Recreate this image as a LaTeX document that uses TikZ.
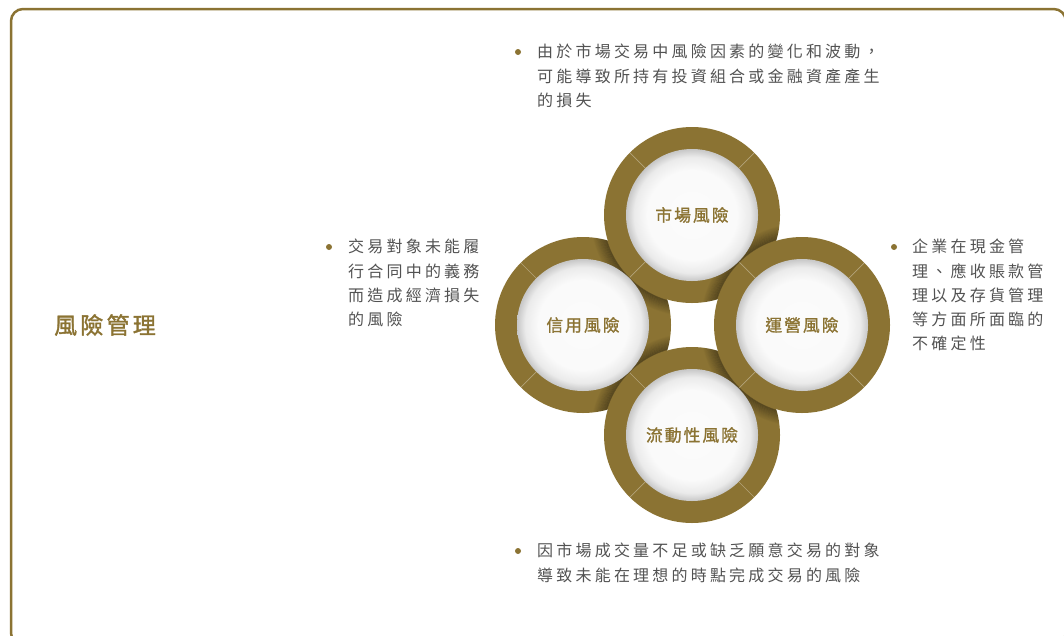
\documentclass[tikz,border=0pt]{standalone}
\usepackage{fontspec}
\usetikzlibrary{calc}
\newfontfamily\cjkbody[LetterSpace=20]{Noto Sans CJK TC}
\newfontfamily\cjklabel[LetterSpace=12,FakeBold=1.2]{Noto Sans CJK TC}
\newfontfamily\cjktitle[LetterSpace=14,FakeBold=1.5]{Noto Sans CJK TC}
\definecolor{gold}{RGB}{139,115,51}
\definecolor{bodygray}{RGB}{82,82,82}
\pgfdeclareradialshading{innerdisk}{\pgfpoint{0bp}{0bp}}{color(0bp)=(white!98.5!black); color(17bp)=(white!98!black); color(22bp)=(white!92!black); color(25bp)=(white!78!black); color(50bp)=(white!78!black)}
\tikzset{
  ringouter/.style={circle, fill=gold, minimum size=176pt, inner sep=0pt},
  ringinner/.style={circle, shading=innerdisk, minimum size=132pt, inner sep=0pt, text=gold, font=\cjklabel\fontsize{16.8}{20}\selectfont},
  sepline/.style={white, opacity=0.35, line width=0.7pt},
  bodytext/.style={anchor=north west, inner sep=0pt, align=left, text=bodygray, font=\cjkbody\fontsize{16}{24.3}\selectfont},
  bulletdot/.style={circle, fill=gold, inner sep=0pt, minimum size=6pt},
}
\newcommand\ringseps[1]{\foreach \a in {45,135,225,315} \draw[sepline] ($(#1)+(\a:66)$) -- ($(#1)+(\a:88)$);}
\newcommand\ringhalo[2]{%
  \begin{scope}[even odd rule]
    \clip (#1) circle (88) (#1) circle (66);
    \foreach \k [evaluate=\k as \op using 0.32*(1-\k/14)] in {1,...,13}
      \draw[black, line width=1.2pt, opacity=\op] (#2) circle ({88+\k});
  \end{scope}}
\begin{document}
\begin{tikzpicture}[x=1pt, y=-1pt]
\useasboundingbox (0,0) rectangle (1064,635);
\draw[gold, line width=2.5pt, rounded corners=12pt] (11,9) rectangle (1065.8,645);

\node[font=\cjktitle\fontsize{23}{26}\selectfont, text=gold] (title) at (105,325) {風險管理};

\coordinate (cT) at (692,215);
\coordinate (cL) at (583,325);
\coordinate (cR) at (802,325);
\coordinate (cB) at (692,435);

% left ring (lowest)
\node[ringouter] (oL) at (cL) {};
\ringseps{cL}
\node[ringinner] (iL) at (cL) {信用風險};

% top ring over left
\ringhalo{cL}{cT}
\node[ringouter] (oT) at (cT) {};
\ringseps{cT}
\node[ringinner] (iT) at (cT) {市場風險};

% bottom ring over left
\ringhalo{cL}{cB}
\node[ringouter] (oB) at (cB) {};
\ringseps{cB}
\node[ringinner] (iB) at (cB) {流動性風險};

% right ring over top and bottom
\ringhalo{cT}{cR}
\ringhalo{cB}{cR}
\node[ringouter] (oR) at (cR) {};
\ringseps{cR}
\node[ringinner] (iR) at (cR) {運營風險};

% texts
\node[bulletdot] (b1) at (518,52) {};
\node[bodytext] (t1) at (537,44) {由於市場交易中風險因素的變化和波動，\\可能導致所持有投資組合或金融資產產生\\的損失};

\node[bulletdot] (b2) at (329,247) {};
\node[bodytext] (t2) at (348,239) {交易對象未能履\\行合同中的義務\\而造成經濟損失\\的風險};

\node[bulletdot] (b3) at (894,247) {};
\node[bodytext] (t3) at (912,239) {企業在現金管\\理、應收賬款管\\理以及存貨管理\\等方面所面臨的\\不確定性};

\node[bulletdot] (b4) at (518,551) {};
\node[bodytext] (t4) at (537,543) {因市場成交量不足或缺乏願意交易的對象\\導致未能在理想的時點完成交易的風險};
\end{tikzpicture}
\end{document}
